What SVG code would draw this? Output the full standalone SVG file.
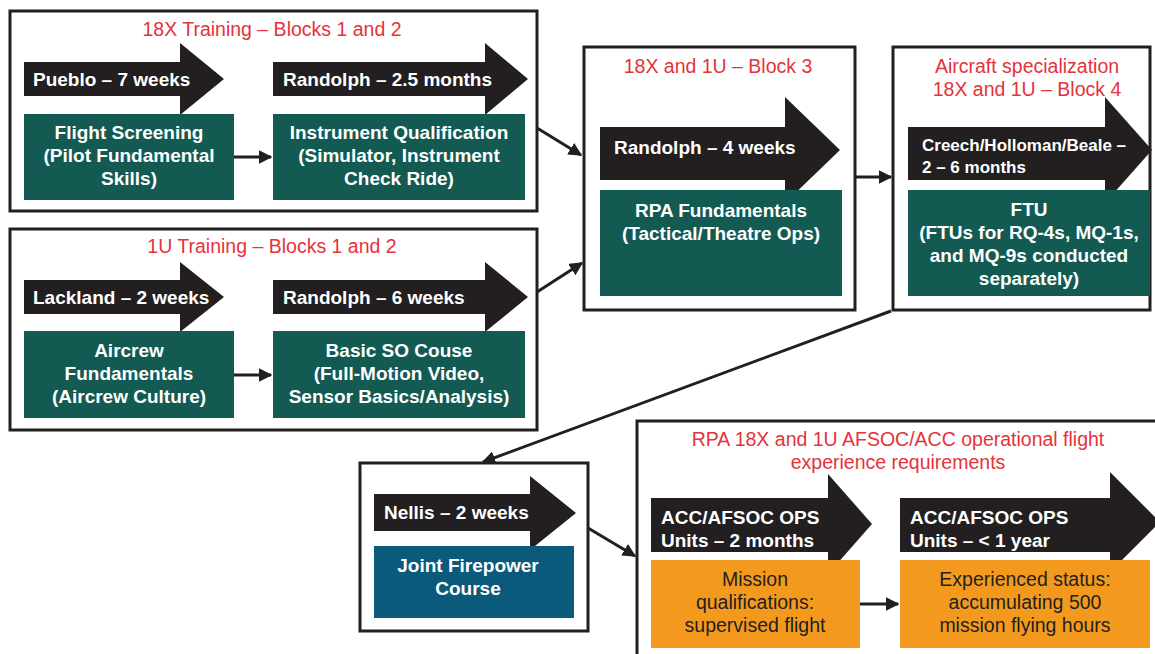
<svg xmlns="http://www.w3.org/2000/svg" width="1155" height="654" viewBox="0 0 1155 654">
<defs>
<style>
.frame{fill:#fff;stroke:#231f20;stroke-width:3}
.arw{fill:#231f20}
.teal{fill:#125a52}
.blue{fill:#0b5a7c}
.orng{fill:#f39a1e}
text{font-family:"Liberation Sans",Arial,sans-serif;font-size:19px}
.ttl{fill:#e5323b;text-anchor:middle;font-size:19.5px}
.lbl{fill:#fff;font-weight:bold}
.box{fill:#fff;font-weight:bold;text-anchor:middle}
.otx{fill:#231f20;text-anchor:middle;font-size:19.5px}
.sm{font-size:17px}
.con{fill:none;stroke:#231f20;stroke-width:3}
</style>
<marker id="ah" viewBox="0 0 10 10" refX="9" refY="5" markerWidth="4.5" markerHeight="4.5" orient="auto" markerUnits="strokeWidth">
<path d="M0,0 L10,5 L0,10 Z" fill="#231f20"/>
</marker>
</defs>
<rect width="1155" height="654" fill="#fff"/>

<g id="block1">
<rect class="frame" x="10" y="11" width="527" height="200"/>
<text class="ttl" x="272" y="36">18X Training – Blocks 1 and 2</text>
<path class="arw" d="M24,62 H180 V43 L224,79 L180,115 V96 H24 Z"/>
<text class="lbl" x="33" y="86">Pueblo – 7 weeks</text>
<rect class="teal" x="24" y="114" width="210" height="86"/>
<text class="box" x="129" y="139">Flight Screening</text>
<text class="box" x="129" y="162">(Pilot Fundamental</text>
<text class="box" x="129" y="185">Skills)</text>
<path class="arw" d="M273,62 H485 V43 L528,79 L485,115 V96 H273 Z"/>
<text class="lbl" x="283" y="86">Randolph – 2.5 months</text>
<rect class="teal" x="273" y="114" width="252" height="86"/>
<text class="box" x="399" y="139">Instrument Qualification</text>
<text class="box" x="399" y="162">(Simulator, Instrument</text>
<text class="box" x="399" y="185">Check Ride)</text>
</g>

<g id="block2">
<rect class="frame" x="10" y="229" width="527" height="201"/>
<text class="ttl" x="272" y="253">1U Training – Blocks 1 and 2</text>
<path class="arw" d="M24,280 H180 V262 L224,297 L180,332 V314 H24 Z"/>
<text class="lbl" x="33" y="304">Lackland – 2 weeks</text>
<rect class="teal" x="24" y="331" width="210" height="87"/>
<text class="box" x="129" y="357">Aircrew</text>
<text class="box" x="129" y="380">Fundamentals</text>
<text class="box" x="129" y="403">(Aircrew Culture)</text>
<path class="arw" d="M273,280 H485 V262 L528,297 L485,332 V314 H273 Z"/>
<text class="lbl" x="283" y="304">Randolph – 6 weeks</text>
<rect class="teal" x="273" y="331" width="252" height="87"/>
<text class="box" x="399" y="357">Basic SO Couse</text>
<text class="box" x="399" y="380">(Full-Motion Video,</text>
<text class="box" x="399" y="403">Sensor Basics/Analysis)</text>
</g>

<g id="block3">
<rect class="frame" x="584" y="47" width="271" height="263"/>
<text class="ttl" x="718" y="73">18X and 1U – Block 3</text>
<path class="arw" d="M600,127 H785 V97 L840,150 L785,203 V180 H600 Z"/>
<text class="lbl" x="614" y="154">Randolph – 4 weeks</text>
<rect class="teal" x="600" y="190" width="242" height="106"/>
<text class="box" x="721" y="217">RPA Fundamentals</text>
<text class="box" x="721" y="240">(Tactical/Theatre Ops)</text>
</g>

<g id="block4">
<rect class="frame" x="893" y="47" width="257" height="263"/>
<text class="ttl" x="1027" y="73">Aircraft specialization</text>
<text class="ttl" x="1027" y="96">18X and 1U – Block 4</text>
<path class="arw" d="M908,127 H1105 V97 L1152,150 L1105,203 V180 H908 Z"/>
<text class="lbl sm" x="922" y="151">Creech/Holloman/Beale –</text>
<text class="lbl sm" x="922" y="173">2 – 6 months</text>
<rect class="teal" x="908" y="190" width="242" height="106"/>
<text class="box" x="1029" y="216">FTU</text>
<text class="box" x="1029" y="239">(FTUs for RQ-4s, MQ-1s,</text>
<text class="box" x="1029" y="262">and MQ-9s conducted</text>
<text class="box" x="1029" y="285">separately)</text>
</g>

<g id="block5">
<rect class="frame" x="360" y="463" width="228" height="168"/>
<path class="arw" d="M374,494 H530 V476 L576,513 L530,550 V531 H374 Z"/>
<text class="lbl" x="384" y="519">Nellis – 2 weeks</text>
<rect class="blue" x="374" y="546" width="200" height="72"/>
<text class="box" x="468" y="572">Joint Firepower</text>
<text class="box" x="468" y="595">Course</text>
</g>

<g id="block6">
<rect class="frame" x="637" y="421" width="530" height="245"/>
<text class="ttl" x="898" y="446">RPA 18X and 1U AFSOC/ACC operational flight</text>
<text class="ttl" x="898" y="469">experience requirements</text>
<path class="arw" d="M651,498 H828 V474 L872,524 L828,574 V552 H651 Z"/>
<text class="lbl" x="661" y="524">ACC/AFSOC OPS</text>
<text class="lbl" x="661" y="547">Units – 2 months</text>
<rect class="orng" x="651" y="560" width="209" height="88"/>
<text class="otx" x="755" y="586">Mission</text>
<text class="otx" x="755" y="609">qualifications:</text>
<text class="otx" x="755" y="632">supervised flight</text>
<path class="arw" d="M900,498 H1110 V472 L1160,522 L1110,572 V552 H900 Z"/>
<text class="lbl" x="910" y="524">ACC/AFSOC OPS</text>
<text class="lbl" x="910" y="547">Units – &lt; 1 year</text>
<rect class="orng" x="900" y="560" width="250" height="88"/>
<text class="otx" x="1025" y="586">Experienced status:</text>
<text class="otx" x="1025" y="609">accumulating 500</text>
<text class="otx" x="1025" y="632">mission flying hours</text>
</g>

<g id="connectors">
<path class="con" d="M234,157 H271" marker-end="url(#ah)"/>
<path class="con" d="M234,375 H271" marker-end="url(#ah)"/>
<path class="con" d="M537,128 L581,155" marker-end="url(#ah)"/>
<path class="con" d="M537,292 L582,263" marker-end="url(#ah)"/>
<path class="con" d="M855,177 H891" marker-end="url(#ah)"/>
<path class="con" d="M891,311 L483,462" marker-end="url(#ah)"/>
<path class="con" d="M588,528 L635,556" marker-end="url(#ah)"/>
<path class="con" d="M860,604 H898" marker-end="url(#ah)"/>
</g>
</svg>
